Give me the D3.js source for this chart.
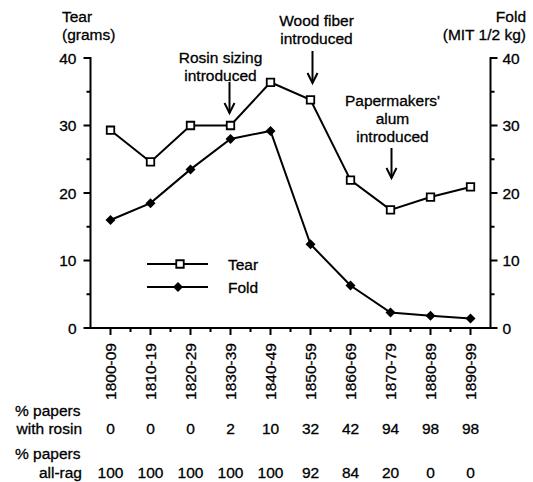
<!DOCTYPE html>
<html><head><meta charset="utf-8">
<script src="https://cdn.jsdelivr.net/npm/d3@7"></script>
<style>body{margin:0;background:#fff}svg{display:block}text{font-family:"Liberation Sans",Arial,sans-serif;font-size:15.5px;fill:#000;stroke:#000;stroke-width:0.3px}</style>
</head><body>
<script>
const decades = ["1800-09","1810-19","1820-29","1830-39","1840-49","1850-59","1860-69","1870-79","1880-89","1890-99"];
const tear = [29.3,24.6,30.0,30.0,36.4,33.8,21.9,17.5,19.4,20.9];
const fold = [16.0,18.5,23.5,28.0,29.2,12.4,6.3,2.3,1.8,1.4];
const rosin = [0,0,0,2,10,32,42,94,98,98];
const allRag = [100,100,100,100,100,92,84,20,0,0];
const yTicks = [0,10,20,30,40];
const yMinor = [5,15,25,35];
const notes = [
  {idx:3, lines:["Rosin sizing","introduced"]},
  {idx:5, lines:["Wood fiber","introduced"]},
  {idx:7, lines:["Papermakers'","alum","introduced"]}
];

const W=533,H=482;
const svg=d3.select("body").append("svg").attr("width",W).attr("height",H);
const x=d3.scaleLinear().domain([-0.5,9.5]).range([90.5,490.5]);
const y=d3.scaleLinear().domain([0,40]).range([328,58]);
const xL=x(-0.5), xR=x(9.5);

// axes
const g=svg.append("g").attr("stroke","#000").attr("stroke-width",2).attr("fill","none");
g.append("line").attr("x1",xL).attr("x2",xL).attr("y1",y(40)-1).attr("y2",y(0));
g.append("line").attr("x1",xR).attr("x2",xR).attr("y1",y(40)-1).attr("y2",y(0));
g.append("line").attr("x1",xL-4).attr("x2",xR+6).attr("y1",y(0)).attr("y2",y(0));
yTicks.forEach(v=>{
  g.append("line").attr("x1",xL-7).attr("x2",xL).attr("y1",y(v)).attr("y2",y(v));
  g.append("line").attr("x1",xR).attr("x2",xR+7).attr("y1",y(v)).attr("y2",y(v));
});
yMinor.forEach(v=>{
  g.append("line").attr("x1",xL-4).attr("x2",xL).attr("y1",y(v)).attr("y2",y(v));
  g.append("line").attr("x1",xR).attr("x2",xR+4).attr("y1",y(v)).attr("y2",y(v));
});
decades.forEach((d,i)=>{
  g.append("line").attr("x1",x(i)).attr("x2",x(i)).attr("y1",y(0)).attr("y2",y(0)+7);
  if(i<9) g.append("line").attr("x1",x(i+0.5)).attr("x2",x(i+0.5)).attr("y1",y(0)).attr("y2",y(0)+4);
});

// tick labels
yTicks.forEach(v=>{
  svg.append("text").attr("x",xL-14).attr("y",y(v)).attr("dy","0.36em").attr("text-anchor","end").text(v);
  svg.append("text").attr("x",xR+12).attr("y",y(v)).attr("dy","0.36em").attr("text-anchor","start").text(v);
});
decades.forEach((d,i)=>{
  svg.append("text").attr("transform",`translate(${x(i)+5.5},343) rotate(-90)`).attr("text-anchor","end").text(d);
});

// axis titles
svg.append("text").attr("x",62).attr("y",22).text("Tear");
svg.append("text").attr("x",62).attr("y",40).text("(grams)");
svg.append("text").attr("x",526).attr("y",22).attr("text-anchor","end").text("Fold");
svg.append("text").attr("x",526).attr("y",40).attr("text-anchor","end").text("(MIT 1/2 kg)");

// lines
const line=d3.line().x((d,i)=>x(i)).y(d=>y(d));
svg.append("path").datum(tear).attr("d",line).attr("fill","none").attr("stroke","#000").attr("stroke-width",2);
svg.append("path").datum(fold).attr("d",line).attr("fill","none").attr("stroke","#000").attr("stroke-width",2);
const sq=d3.symbol().type(d3.symbolSquare).size(56);
const dm="M0,-5L5,0L0,5L-5,0Z";
svg.selectAll(".t").data(tear).join("path").attr("transform",(d,i)=>`translate(${x(i)},${y(d)})`).attr("d",sq).attr("fill","#fff").attr("stroke","#000").attr("stroke-width",1.8);
svg.selectAll(".f").data(fold).join("path").attr("transform",(d,i)=>`translate(${x(i)},${y(d)})`).attr("d",dm).attr("fill","#000");

// legend
svg.append("line").attr("x1",147).attr("x2",208).attr("y1",264).attr("y2",264).attr("stroke","#000").attr("stroke-width",2);
svg.append("path").attr("transform","translate(180,264)").attr("d",sq).attr("fill","#fff").attr("stroke","#000").attr("stroke-width",1.8);
svg.append("text").attr("x",228).attr("y",264).attr("dy","0.36em").text("Tear");
svg.append("line").attr("x1",147).attr("x2",208).attr("y1",287).attr("y2",287).attr("stroke","#000").attr("stroke-width",2);
svg.append("path").attr("transform","translate(178,287)").attr("d",dm).attr("fill","#000");
svg.append("text").attr("x",228).attr("y",287).attr("dy","0.36em").text("Fold");

// annotations
const noteY={3:57,5:20,7:100};
const noteDx={3:-10,5:6,7:2};
const arrowY={3:[82,113],5:[51,83],7:[148,178]};
notes.forEach(n=>{
  const cx=x(n.idx)+noteDx[n.idx];
  n.lines.forEach((l,k)=>{
    svg.append("text").attr("x",cx).attr("y",noteY[n.idx]+k*18).attr("dy","0.36em").attr("text-anchor","middle").text(l);
  });
  const ax=x(n.idx)+(n.idx===3?-1:(n.idx===5?2:1)), [a0,a1]=arrowY[n.idx];
  svg.append("line").attr("x1",ax).attr("x2",ax).attr("y1",a0).attr("y2",a1).attr("stroke","#000").attr("stroke-width",2);
  svg.append("path").attr("d",`M${ax-5},${a1-10}L${ax},${a1}L${ax+5},${a1-10}`).attr("fill","none").attr("stroke","#000").attr("stroke-width",2);
});

// table
svg.append("text").attr("x",15).attr("y",410).attr("dy","0.36em").text("% papers");
svg.append("text").attr("x",82).attr("y",428).attr("dy","0.36em").attr("text-anchor","end").text("with rosin");
svg.append("text").attr("x",15).attr("y",453).attr("dy","0.36em").text("% papers");
svg.append("text").attr("x",82).attr("y",472).attr("dy","0.36em").attr("text-anchor","end").text("all-rag");
rosin.forEach((v,i)=>svg.append("text").attr("x",x(i)).attr("y",428).attr("dy","0.36em").attr("text-anchor","middle").text(v));
allRag.forEach((v,i)=>svg.append("text").attr("x",x(i)).attr("y",472).attr("dy","0.36em").attr("text-anchor","middle").text(v));
</script>
</body></html>
